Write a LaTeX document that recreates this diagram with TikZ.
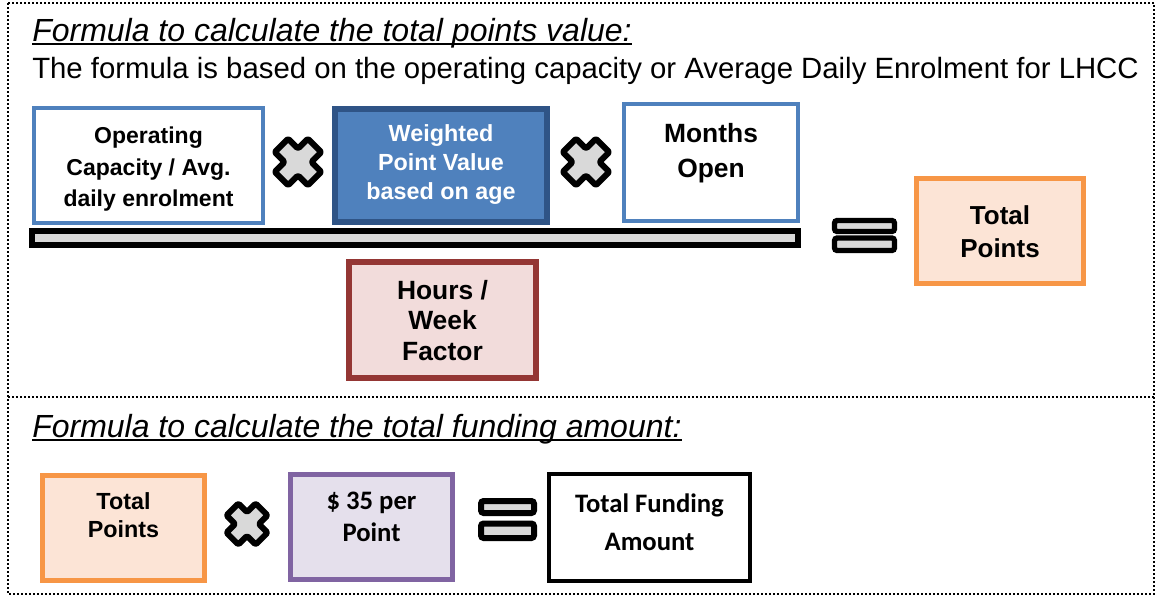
\documentclass[tikz,border=0pt]{standalone}
\usepackage{fontspec}
\setmainfont{Liberation Sans}
\newfontfamily\boxfont{Carlito}
\usetikzlibrary{calc}

\definecolor{ofblue}{HTML}{4F81BD}
\definecolor{ofnavy}{HTML}{2F5486}
\definecolor{oforange}{HTML}{F79646}
\definecolor{ofpeach}{HTML}{FCE4D6}
\definecolor{ofred}{HTML}{943634}
\definecolor{ofrose}{HTML}{F2DCDB}
\definecolor{ofpurple}{HTML}{8064A2}
\definecolor{oflilac}{HTML}{E5E0EC}
\definecolor{opgray}{HTML}{D9D9D9}

\tikzset{
  sz/.style 2 args={minimum width=#1*0.75pt, minimum height=#2*0.75pt},
  box/.style={draw, rectangle, inner sep=0pt},
  lbl/.style={align=center, inner sep=0pt},
  heading/.style={anchor=base west, inner sep=0pt, font=\fontsize{24}{28}\selectfont\itshape},
  frame/.style={line width=1.5pt, dash pattern=on 1.5pt off 1.5pt},
  eqbar/.style={draw=black, fill=opgray, line width=4pt, rounded corners=2pt},
  pics/mult/.style={code={
    \draw[line width=4.5pt, line join=round, rounded corners=1pt, fill=opgray, rotate=45]
      (9.5,9.5) -- (23.5,9.5) -- (23.5,-9.5) -- (9.5,-9.5) -- (9.5,-23.5) -- (-9.5,-23.5)
      -- (-9.5,-9.5) -- (-23.5,-9.5) -- (-23.5,9.5) -- (-9.5,9.5) -- (-9.5,23.5) -- (9.5,23.5) -- cycle;
  }}
}

\begin{document}
\begin{tikzpicture}[x=0.75pt,y=-0.75pt]
\useasboundingbox (0,0) rectangle (1157,596);

% dotted frame and divider
\draw[frame] (8,3) rectangle (1154,594);
\draw[frame] (8,397) -- (1154,397);

% ---- total points formula ----
\node[heading] (t1) at (32,41) {Formula to calculate the total points value:};
\draw[line width=1.5pt] ([yshift=-2.6pt]t1.base west) -- ([yshift=-2.6pt]t1.base east);
\node[anchor=base west, inner sep=0pt, font=\fontsize{22}{26}\selectfont] (sub) at (32,78)
  {The formula is based on the operating capacity or Average Daily Enrolment for LHCC};

\node[box, sz={229}{115}, draw=ofblue, line width=3pt, fill=white] (cap) at (148.5,165.5) {};
\node[lbl, font=\fontsize{17.25}{23.6}\selectfont\bfseries] (capt) at ($(cap.center)+(0,4)$)
  {Operating\\Capacity / Avg.\\daily enrolment};

\pic at (298,162) {mult};

\node[box, sz={212}{113}, draw=ofnavy, line width=4.5pt, fill=ofblue] (wpv) at (441,165.5) {};
\node[lbl, text=white, font=\fontsize{17.5}{21.4}\selectfont\bfseries] (wpvt) at ($(wpv.center)+(0,-1)$)
  {Weighted\\Point Value\\based on age};

\pic at (586,162) {mult};

\node[box, sz={174}{117}, draw=ofblue, line width=3pt, fill=white] (mo) at (711,162.5) {};
\node[lbl, font=\fontsize{19.8}{26.25}\selectfont\bfseries] (mot) at ($(mo.center)+(0,-9)$)
  {Months\\Open};

% fraction bar
\node[box, sz={766}{14}, line width=4.5pt, fill=opgray] (bar) at (415,238) {};

% equals sign
\draw[eqbar] (834.5,220.5) rectangle (894.5,231.5);
\draw[eqbar] (834.5,238) rectangle (894.5,250.5);

\node[box, sz={167}{105}, draw=oforange, line width=3.75pt, fill=ofpeach] (tp) at (1000,231) {};
\node[lbl, font=\fontsize{19.5}{24.75}\selectfont\bfseries] (tpt) at ($(tp.center)+(0,1)$)
  {Total\\Points};

\node[box, sz={187}{116}, draw=ofred, line width=4.5pt, fill=ofrose] (hw) at (442.5,320) {};
\node[lbl, font=\fontsize{19.8}{22.9}\selectfont\bfseries] (hwt) at ($(hw.center)+(0,0.5)$)
  {Hours /\\Week\\Factor};

% ---- total funding formula ----
\node[heading] (t2) at (32,437) {Formula to calculate the total funding amount:};
\draw[line width=1.5pt] ([yshift=-2.6pt]t2.base west) -- ([yshift=-2.6pt]t2.base east);

\node[box, sz={162}{105}, draw=oforange, line width=3.75pt, fill=ofpeach] (tp2) at (123.5,528) {};
\node[lbl, font=\fontsize{17.5}{21}\selectfont\bfseries] (tp2t) at ($(tp2.center)+(0,-13)$)
  {Total\\Points};

\pic[scale=0.88] at (247,524) {mult};

\node[box, sz={162}{105}, draw=ofpurple, line width=3.75pt, fill=oflilac] (pp) at (371.5,527) {};
\node[lbl, font=\fontsize{20}{24}\boxfont\bfseries] (ppt) at ($(pp.center)+(0,-10)$)
  {\$ 35 per\\Point};

\draw[eqbar, line width=4.5pt] (481,501) rectangle (534,513);
\draw[eqbar, line width=4.5pt] (481,523.5) rectangle (534,538);

\node[box, sz={201}{107}, draw=black, line width=3pt, fill=white] (tf) at (649.5,527.5) {};
\node[lbl, font=\fontsize{20}{28.5}\boxfont\bfseries] (tft) at ($(tf.center)+(0,-5)$)
  {Total Funding\\Amount};

\end{tikzpicture}
\end{document}
